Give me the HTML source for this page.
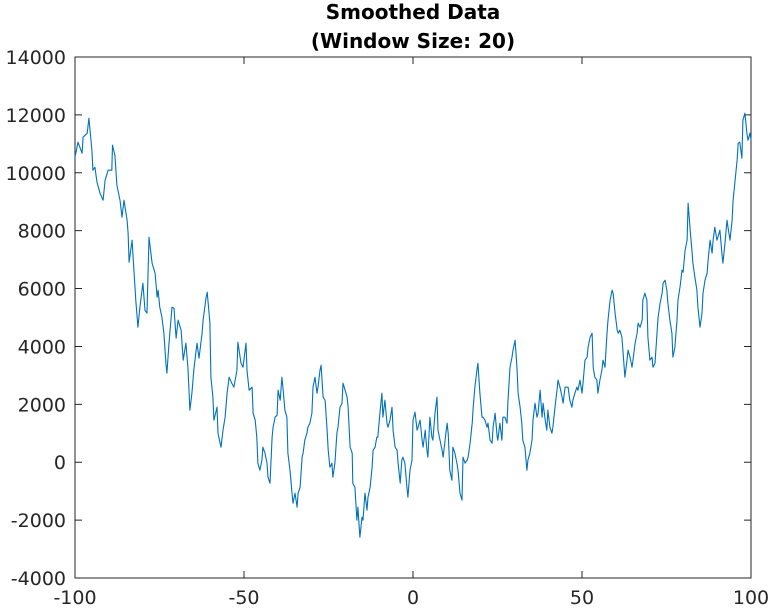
<!DOCTYPE html>
<html><head><meta charset="utf-8"><style>
html,body{margin:0;padding:0;background:#fff;}
svg{display:block;font-family:"DejaVu Sans","Liberation Sans",sans-serif;}
</style></head><body>
<svg id="chart" width="773" height="608" viewBox="0 0 773 608" xmlns="http://www.w3.org/2000/svg">
<rect x="0" y="0" width="773" height="608" fill="#fff"/>
<text x="413" y="19" text-anchor="middle" font-size="20" font-weight="bold" fill="#000">Smoothed Data</text>
<text x="413" y="48" text-anchor="middle" font-size="20" font-weight="bold" fill="#000">(Window Size: 20)</text>
<g id="axes"></g>
<path id="line" fill="none" stroke="#0072BD" stroke-width="1.1" stroke-linejoin="round"/>
</svg>
<script>
const xTicks = [-100,-50,0,50,100];
const yTicks = [-4000,-2000,0,2000,4000,6000,8000,10000,12000,14000];
const xData = [-100,-99.1,-97.9,-97.6,-96.4,-95.9,-95.0,-94.7,-94.1,-93.5,-92.6,-91.7,-91.1,-90.2,-89.1,-88.9,-88.2,-87.6,-86.7,-86.1,-85.5,-84.6,-84.3,-84.0,-83.1,-82.8,-82.0,-81.4,-80.8,-79.9,-79.3,-78.7,-78.1,-77.2,-76.3,-75.7,-75.4,-74.9,-74.3,-73.7,-73.1,-72.8,-72.2,-71.3,-70.7,-70.1,-69.5,-68.6,-68.0,-67.2,-66.6,-66.0,-65.4,-64.8,-63.9,-63.3,-62.4,-62.1,-61.2,-60.9,-60.4,-60.1,-59.8,-59.2,-58.9,-58.0,-57.7,-56.8,-56.2,-55.6,-55.0,-54.4,-53.6,-53.0,-52.1,-51.8,-50.9,-50.3,
-49.4,-49.1,-48.5,-47.6,-47.3,-46.7,-46.2,-45.9,-45.3,-44.7,-44.4,-43.8,-43.2,-42.9,-42.3,-41.7,-41.4,-40.8,-40.2,-39.9,-39.3,-38.8,-38.5,-37.9,-37.3,-37.0,-36.4,-35.8,-35.5,-34.9,-34.3,-34.0,-33.4,-32.8,-32.5,-32.0,-31.4,-31.1,-30.5,-29.9,-29.6,-29.0,-28.4,-28.1,-27.5,-27.2,-26.6,-26.0,-25.4,-25.1,-24.6,-24.0,-23.7,-23.1,-22.5,-22.2,-21.6,-21.0,-20.7,-20.1,-19.5,-19.2,-18.6,-18.0,-17.8,-17.2,-16.6,-16.3,-15.7,-15.1,-14.8,-14.2,-13.6,-13.3,-12.7,-12.1,-11.8,-11.2,-10.7,-10.4,-9.8,-9.2,-8.9,-8.3,-7.7,-7.4,-6.8,-6.2,-5.9,-5.3,-4.7,-4.4,-3.8,-3.3,-3.0,-2.4,-1.8,-1.5,-0.9,-0.3,
0.0,0.6,1.2,1.5,2.1,2.7,3.0,3.6,4.1,4.4,5.0,5.6,5.9,6.5,7.1,7.4,8.0,8.6,8.9,9.5,10.1,10.4,10.9,11.5,11.8,12.4,13.0,13.3,13.9,14.5,14.8,15.4,16.0,16.3,16.9,17.5,17.8,18.3,18.9,19.2,19.8,20.4,20.7,21.3,21.9,22.2,22.8,23.4,23.7,24.3,24.9,25.1,25.7,26.3,26.6,27.2,27.8,28.1,28.7,29.3,29.6,30.2,30.8,31.1,31.7,32.2,32.5,33.1,33.7,34.0,34.6,35.2,35.5,36.1,36.7,37.0,37.6,38.2,38.5,39.1,39.6,39.9,40.5,41.1,41.4,42.0,42.6,42.9,43.5,44.1,44.4,45.0,45.6,45.9,46.4,47.0,47.3,47.9,48.5,48.8,49.4,
50.0,50.3,50.9,51.5,51.8,52.4,53.0,53.3,53.8,54.4,54.7,55.3,55.9,56.2,56.8,57.4,57.7,58.3,58.9,59.2,59.8,60.4,60.7,61.2,61.8,62.1,62.7,63.3,63.6,64.2,64.8,65.1,65.7,66.3,66.6,67.2,67.8,68.0,68.6,69.2,69.5,70.1,70.7,71.0,71.6,72.2,72.5,73.1,73.7,74.0,74.6,75.1,75.4,76.0,76.6,76.9,77.5,78.1,78.4,79.0,79.6,79.9,80.5,81.1,81.4,82.0,82.5,82.8,83.4,84.0,84.3,84.9,85.5,85.8,86.4,87.0,87.3,87.9,88.5,88.8,89.3,89.9,90.2,90.8,91.4,91.7,92.3,92.9,93.2,93.8,94.4,94.7,95.3,95.9,96.2,96.7,97.3,97.6,98.2,98.8,99.1,99.7,100];
const yData = [10540,11056,10676,11229,11367,11885,10780,10089,10192,9674,9294,9052,9743,10089,10089,10952,10607,9570,9052,8465,9052,8361,7912,6910,7670,7083,5597,4664,5355,6184,5252,5148,7774,6875,6530,5701,5943,5355,5010,4457,3420,3075,4111,5355,5321,4284,4906,4561,3524,4111,3282,1797,2384,3248,4111,3593,4457,4906,5701,5874,5252,4802,2937,2246,1451,1900,1002,518,1106,1555,2384,2937,2729,2591,3179,4146,3420,3282,
4111,3179,2488,2591,1693,1451,864,-35,-276,69,518,311,-35,-518,-726,864,1209,1555,1624,2488,2142,2937,2591,1797,1555,311,-276,-1071,-1417,-1071,-1555,-1071,-864,173,311,760,1002,1209,1347,1693,2591,2937,2384,2591,3179,3351,2246,2142,1106,415,-173,-35,-518,-35,1002,1209,1900,2038,2729,2488,2246,1900,518,311,-726,-864,-2004,-1555,-2591,-1900,-2004,-1071,-1658,-1209,-864,-173,415,518,864,864,1693,2384,1555,2142,1347,1209,1451,1900,1106,518,415,-35,-726,69,173,-35,-864,-1209,-276,69,
1451,1728,1106,1209,1451,760,518,1106,415,173,1555,864,760,1693,2246,1106,760,415,173,760,1347,1002,-276,-622,518,311,-35,-276,-1071,-1313,173,-35,69,173,656,1347,1900,2591,3179,3420,2384,1555,1555,1451,1209,1347,760,656,1209,1693,864,760,1347,760,1555,1555,1347,2142,3282,3628,3870,4215,3179,2384,1900,1347,760,518,-276,69,311,760,1451,2038,1555,1693,2488,1555,2038,1451,1106,1797,1209,1002,1209,1900,2488,2833,2591,2246,2038,2591,2591,2591,2142,1900,2142,2384,2591,2488,2833,
2384,2729,3524,3628,3973,4319,4457,3282,2937,2833,2384,2833,3179,3524,3282,4457,4906,5597,5943,5839,5148,4561,4457,4561,4319,3870,2937,3524,3870,3628,3282,3524,4111,4457,4802,4664,4906,5597,5839,5597,4319,3524,3628,3282,3420,4457,5010,5494,5839,6184,6288,5943,5494,4906,4457,3628,3973,4906,5597,6046,6634,6565,7325,7670,8948,8016,7325,6875,6392,5943,5355,4664,5148,5839,6288,6530,6979,7670,7221,7670,8119,7670,7774,8016,7221,6875,7567,8361,8119,7670,8361,9052,9743,10434,11021,11056,10503,11816,12058,11367,11125,11367,11125];

const L=75,R=751,T=57,B=578;
const xMin=-100,xMax=100,yMin=-4000,yMax=14000;
function sx(v){return L+(v-xMin)/(xMax-xMin)*(R-L);}
function sy(v){return B-(v-yMin)/(yMax-yMin)*(B-T);}
const NS="http://www.w3.org/2000/svg";
const axes=document.getElementById('axes');
function mk(tag,attrs){const e=document.createElementNS(NS,tag);for(const k in attrs)e.setAttribute(k,attrs[k]);return e;}
const box=mk('rect',{x:L,y:T,width:R-L,height:B-T,fill:'none',stroke:'#262626','stroke-width':1});


axes.appendChild(box);
xTicks.forEach(function(t){
  const x=sx(t);
  const tk=mk('path',{d:'M'+x+' '+B+'V'+(B-7)+'M'+x+' '+T+'V'+(T+7),stroke:'#262626','stroke-width':1});
  
  
  axes.appendChild(tk);
  const lb=mk('text',{x:x,y:B+26,'text-anchor':'middle','font-size':19,fill:'#262626'});
  lb.textContent=String(t);
  
  
  axes.appendChild(lb);
});
yTicks.forEach(function(t){
  const y=sy(t);
  const tk=mk('path',{d:'M'+L+' '+y+'H'+(L+7)+'M'+R+' '+y+'H'+(R-7),stroke:'#262626','stroke-width':1});
  
  
  axes.appendChild(tk);
  const lb=mk('text',{x:L-9,y:y+7,'text-anchor':'end','font-size':19,fill:'#262626'});
  lb.textContent=String(t);
  
  
  axes.appendChild(lb);
});
let d='';
for(let i=0;i<xData.length;i++){d+=(i?'L':'M')+sx(xData[i]).toFixed(1)+' '+sy(yData[i]).toFixed(1);}
document.getElementById('line').setAttribute('d',d);
</script>
</body></html>
